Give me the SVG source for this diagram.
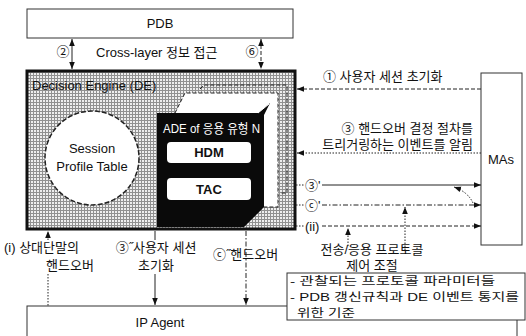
<svg xmlns="http://www.w3.org/2000/svg" width="526" height="336" viewBox="0 0 526 336">
<style>
text{font-family:"Liberation Sans","Noto Sans CJK KR",sans-serif;font-size:13px;fill:#111}
.box{fill:#fff;stroke:#333;stroke-width:1}
.ln{fill:none;stroke:#222;stroke-width:1}
.dot{stroke-dasharray:1.5 1.5}
.dash{stroke-dasharray:4 2}
.dd{stroke-dasharray:5 2 1.5 2}
.w{fill:#fff}
.nt{font-size:11px}
</style>
<defs>
<pattern id="grid" width="3" height="3" patternUnits="userSpaceOnUse">
<rect width="3" height="3" fill="#eeeeee"/>
<rect width="3" height="1" fill="#909090"/>
<rect width="1" height="3" fill="#909090"/>
</pattern>
<marker id="ah" viewBox="0 0 10 10" refX="10" refY="5" markerWidth="7" markerHeight="7" orient="auto-start-reverse" markerUnits="userSpaceOnUse">
<path d="M0,1 L10,5 L0,9 z" fill="#111"/>
</marker>
</defs>

<g id="pdb">
<rect class="box" x="27" y="9" width="266" height="29"/>
<text x="160" y="28" text-anchor="middle">PDB</text>
</g>

<g id="ipagent">
<rect class="box" x="27" y="306" width="490" height="45"/>
<text x="160" y="327" text-anchor="middle" font-size="14">IP Agent</text>
</g>

<g id="mas">
<rect class="box" x="481" y="73" width="41" height="172"/>
<text x="501" y="164" text-anchor="middle">MAs</text>
</g>

<g id="de">
<rect x="27" y="71" width="268" height="158" fill="url(#grid)" stroke="#111" stroke-width="3"/>
<text x="32" y="90" font-size="14">Decision Engine (DE)</text>
</g>

<g id="spt">
<circle cx="92" cy="158" r="47" fill="#fff" stroke="#222" stroke-width="1.5" stroke-dasharray="5 2"/>
<text x="92" y="153" text-anchor="middle">Session</text>
<text x="92" y="171" text-anchor="middle">Profile Table</text>
</g>

<g id="ade">
<path class="ln dash" d="M200,89 L204,85 L287,85 L287,193 L281,193"/>
<path d="M175,113 L185,93 L278,93 L278,207 L264,207" fill="#fff" stroke="#222" stroke-dasharray="4 2"/>
<polygon points="157,113 258,113 270,103 264,115 264,207 244,227 157,227" fill="#0a0a0a"/>
<line x1="258" y1="113" x2="269" y2="104" stroke="#fff" stroke-width="1"/>
<text class="w" x="163" y="133" font-size="11" textLength="97" lengthAdjust="spacingAndGlyphs">ADE of 응용 유형 N</text>
<rect x="167" y="142" width="84" height="21" rx="4" fill="#fff"/>
<text x="209" y="157" text-anchor="middle" font-weight="bold">HDM</text>
<rect x="167" y="178" width="84" height="22" rx="4" fill="#fff"/>
<text x="209" y="194" text-anchor="middle" font-weight="bold">TAC</text>
</g>

<g id="note">
<rect class="box" x="287" y="273" width="238" height="47"/>
<text class="nt" x="290" y="285" textLength="205" lengthAdjust="spacingAndGlyphs">- 관찰되는 프로토콜 파라미터들</text>
<text class="nt" x="290" y="301" textLength="229" lengthAdjust="spacingAndGlyphs">-  PDB 갱신규칙과 DE 이벤트 통지를</text>
<text class="nt" x="297" y="317" textLength="58" lengthAdjust="spacingAndGlyphs">위한 기준</text>
</g>

<g id="connectors">
<line class="ln" x1="72" y1="39" x2="72" y2="69" marker-start="url(#ah)" marker-end="url(#ah)"/>
<text x="63" y="56" text-anchor="middle">②</text>
<text x="96" y="57">Cross-layer 정보 접근</text>
<line class="ln dash" x1="261" y1="39" x2="261" y2="69" marker-start="url(#ah)" marker-end="url(#ah)"/>
<text x="252" y="56" text-anchor="middle">⑥</text>

<line class="ln dash" x1="481" y1="89" x2="297" y2="89" marker-end="url(#ah)"/>
<text x="323" y="81">① 사용자 세션 초기화</text>

<line class="ln dot" x1="481" y1="153" x2="297" y2="153" marker-end="url(#ah)"/>
<text x="473" y="133" text-anchor="end">③ 핸드오버 결정 절차를</text>
<text x="473" y="149" text-anchor="end">트리거링하는 이벤트를 알림</text>

<line class="ln dot" x1="296" y1="185" x2="304" y2="185"/>
<text x="305" y="190">③'</text>
<line class="ln" x1="322" y1="185" x2="481" y2="185" marker-end="url(#ah)"/>

<line class="ln dot" x1="296" y1="205" x2="304" y2="205"/>
<text x="305" y="210">ⓒ'</text>
<line class="ln dd" x1="322" y1="205" x2="481" y2="205" marker-end="url(#ah)"/>

<line class="ln dot" x1="296" y1="226" x2="304" y2="226"/>
<text x="305" y="231">(ii)</text>
<line class="ln dash" x1="322" y1="226" x2="481" y2="226" marker-end="url(#ah)"/>

<path class="ln dot" d="M473,203 Q468,192 454,187" marker-end="url(#ah)"/>
<line class="ln dot" x1="405" y1="250" x2="405" y2="207" marker-end="url(#ah)"/>
<line class="ln dot" x1="348" y1="246" x2="348" y2="228" marker-end="url(#ah)"/>
<text x="372" y="254" text-anchor="middle">전송/응용 프로토콜</text>
<text x="372" y="270" text-anchor="middle">제어 조절</text>

<line class="ln dot" x1="48" y1="240" x2="48" y2="231" marker-end="url(#ah)"/>
<line class="ln dot" x1="48" y1="274" x2="48" y2="306"/>
<text x="4" y="252">(i) 상대단말의</text>
<text x="70" y="270" text-anchor="middle">핸드오버</text>

<line class="ln" x1="155" y1="231" x2="155" y2="240"/>
<line class="ln" x1="155" y1="274" x2="155" y2="305" marker-end="url(#ah)"/>
<text x="156" y="252" text-anchor="middle">③˝사용자 세션</text>
<text x="156" y="270" text-anchor="middle">초기화</text>

<line class="ln dd" x1="246" y1="231" x2="246" y2="305" marker-end="url(#ah)"/>
<text x="213" y="259">ⓒ˝핸드오버</text>
</g>
</svg>
